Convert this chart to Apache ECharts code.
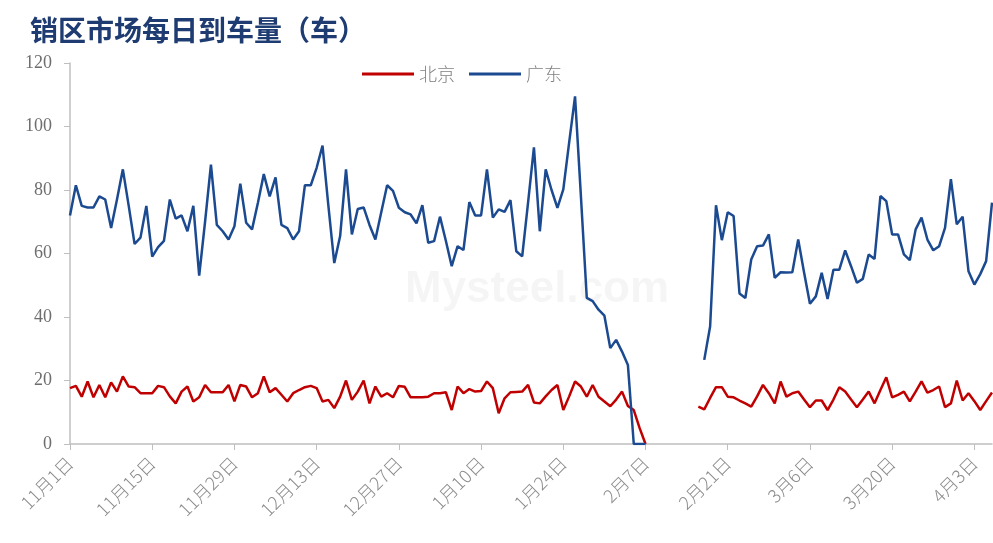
<!DOCTYPE html>
<html>
<head>
<meta charset="utf-8">
<script src="https://cdn.jsdelivr.net/npm/echarts@6/dist/echarts.min.js"></script>
<style>
html,body{margin:0;padding:0;background:#fff;}
#main{width:993px;height:543px;}
</style>
</head>
<body>
<div id="main"></div>
<script>
var chart = echarts.init(document.getElementById('main'));

// 日期类目：2023-11-01 起共158天
var startDate = new Date(2023, 10, 1);
var dayCount = 158;
var dates = [];
for (var i = 0; i < dayCount; i++) {
    var d = new Date(startDate.getTime() + i * 86400000);
    dates.push((d.getMonth() + 1) + '月' + d.getDate() + '日');
}

var yTicks = [0, 20, 40, 60, 80, 100, 120];

// 北京
var bjBefore = [17.6,18.3,14.9,19.7,14.7,18.6,14.7,19.4,16.5,21.3,
    18.1,17.9,16,16,16,18.3,17.9,15,12.8,16.5,
    18.1,13.4,14.7,18.6,16.3,16.3,16.3,18.6,13.4,18.6,
    18.1,14.7,16,21.3,16.3,17.6,15.5,13.4,16,17,
    17.9,18.3,17.6,13.4,13.9,11.3,14.9,20,13.9,16.5,
    20,12.8,18.1,14.9,16,14.7,18.3,18,14.7,14.7,
    14.7,14.9,16,16,16.3,10.7,18.1,16,17.3,16.5,
    16.7,19.7,17.6,9.7,14.4,16.3,16.4,16.5,18.6,13.1,
    12.8,15,17,18.6,10.7,15,19.7,18.1,14.9,18.6,
    14.9,13.4,11.9,14,16.5,12,10.7,5,0];
var bjGap = [null,null,null,null,null,null,null,null];
var bjAfter = [11.8,10.9,14.5,17.9,17.9,14.9,14.7,13.7,12.8,11.8,
    15,18.6,16,12.8,19.7,14.9,16,16.5,14,11.6,
    13.7,13.7,10.7,14,17.9,16.5,14,11.6,14,16.5,
    12.8,17,21,14.7,15.5,16.5,13.4,16.5,19.7,16.2,
    17,18.1,11.6,12.8,20,13.7,16,13.5,10.7,13.5,
    16.2];

// 广东
var gdBefore = [72,81.5,75,74.5,74.5,78,77,68,77,86.5,
    75,63,65,75,59,62,64,77,71,72,
    67,75,53,70,88,69,67,64.4,68.6,82,
    69.7,67.6,76,85,78,84,69,68,64.4,67,
    81.5,81.5,87,94,75,57,65.5,86.5,66,74,
    74.5,69,64.4,73,81.5,79.7,74.4,73,72.3,69.5,
    75.2,63.4,63.9,71.6,64,56,62.3,61.1,76.2,72,
    72,86.5,71.3,73.9,73.1,76.8,60.7,59.1,76,93.4,
    67,86.5,80,74.4,80.2,95,109.5,78,46,45,
    42.3,40.4,30.2,32.8,29.1,24.9,0,0,0];
var gdGap = [null,null,null,null,null,null,null,null,null];
var gdAfter = [26.5,37,75.2,64.2,73,71.8,47.4,46,58.1,62.3,
    62.5,66,52.3,54.1,54,54.1,64.4,54,44.2,46.5,
    53.9,45.7,54.9,54.9,61,56,50.8,52,59.7,58.3,
    78.1,76.5,66,66,59.7,57.9,67.6,71.3,64.4,61,
    62.3,68.1,83.4,69.2,71.6,54.4,50.2,53.5,57.6,76];

var bjData = bjBefore.concat(bjGap, bjAfter);
var gdData = gdBefore.concat(gdGap, gdAfter);

var option = {
    backgroundColor: '#fff',
    animation: false,
    title: {
        text: '销区市场每日到车量（车）',
        left: 25,
        top: 11,
        textStyle: {
            fontFamily: 'Noto Sans CJK SC',
            fontSize: 28,
            fontWeight: 'bold',
            color: '#1F3C72'
        }
    },
    legend: {
        left: 357,
        top: 60,
        icon: 'rect',
        itemWidth: 52,
        itemHeight: 3,
        itemGap: 14,
        textStyle: {
            fontFamily: 'Noto Sans CJK SC',
            fontWeight: 300,
            fontSize: 18,
            color: '#808080'
        },
        data: ['北京', '广东']
    },
    grid: {
        left: 70,
        right: 1,
        top: 63,
        bottom: 99,
        containLabel: false
    },
    xAxis: {
        type: 'category',
        boundaryGap: false,
        data: dates,
        axisLine: { lineStyle: { color: '#BFBFBF', width: 1.5 } },
        axisTick: {
            show: true,
            interval: 13,
            length: 6,
            lineStyle: { color: '#BFBFBF' }
        },
        axisLabel: {
            interval: 13,
            rotate: 45,
            margin: 16,
            fontFamily: 'Noto Sans CJK SC',
            fontWeight: 300,
            fontSize: 18,
            color: '#8C8C8C'
        },
        splitLine: { show: false }
    },
    yAxis: {
        type: 'value',
        min: yTicks[0],
        max: yTicks[yTicks.length - 1],
        interval: 20,
        axisLine: { show: true, lineStyle: { color: '#BFBFBF', width: 1.5 } },
        axisTick: { show: true, length: 6, lineStyle: { color: '#BFBFBF' } },
        axisLabel: {
            margin: 18,
            fontFamily: 'Liberation Serif',
            fontSize: 18,
            color: '#6E6E6E'
        },
        splitLine: { show: false }
    },
    graphic: [{
        type: 'text',
        left: 405,
        top: 268,
        silent: true,
        style: {
            text: 'Mysteel.com',
            fontFamily: 'Liberation Sans',
            fontSize: 44,
            fontWeight: 'bold',
            fill: 'rgba(0,0,0,0.04)'
        }
    }],
    series: [{
        name: '北京',
        type: 'line',
        data: bjData,
        showSymbol: false,
        symbol: 'none',
        connectNulls: false,
        lineStyle: { color: '#C00000', width: 2.5 },
        itemStyle: { color: '#C00000' }
    }, {
        name: '广东',
        type: 'line',
        data: gdData,
        showSymbol: false,
        symbol: 'none',
        connectNulls: false,
        lineStyle: { color: '#1B4A91', width: 2.5 },
        itemStyle: { color: '#1B4A91' }
    }]
};

chart.setOption(option);
</script>
</body>
</html>
